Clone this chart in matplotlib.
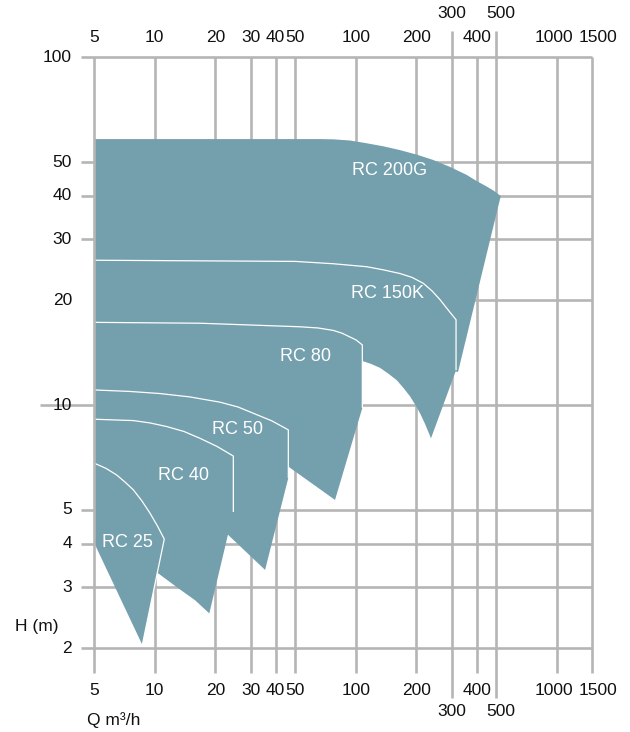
import matplotlib
matplotlib.use("Agg")
import matplotlib.pyplot as plt
import matplotlib.transforms as mtransforms

plt.rcParams['font.family'] = ['Liberation Sans', 'DejaVu Sans']

# ---------------- data ----------------
x_ticks = [5, 10, 20, 30, 40, 50, 100, 200, 300, 400, 500, 1000, 1500]
x_tick_labels = ['5', '10', '20', '30', '40', '50', '100', '200', '300', '400', '500', '1000', '1500']
x_staggered = [300, 500]
y_ticks = [2, 3, 4, 5, 10, 20, 30, 40, 50, 100]
y_tick_labels = ['2', '3', '4', '5', '10', '20', '30', '40', '50', '100']
y_short_stubs = [2, 3, 4, 5, 30, 40, 50, 100]
y_long_stubs = [10]

pump_names = ['RC 200G', 'RC 150K', 'RC 80', 'RC 50', 'RC 40', 'RC 25']

rc200g_q = [5, 66.5, 77.4, 93.7, 113.5, 136.8, 166.2, 201.3, 242.6, 294.8, 357, 397, 449, 488, 527,
            323, 5]
rc200g_h = [58.2, 58.2, 58.1, 57.65, 56.6, 55.5, 54.1, 52.5, 50.7, 48.4, 45.9, 44.2, 42.5, 41.3, 39.9,
            12.45, 22.9]

rc150k_q = [5, 49.9, 77.4, 113.5, 136.8, 166.2, 190.7, 217, 239.9, 262.9, 288, 315.8,
            315.8, 237,
            221.4, 209, 197.4, 186.4, 173, 160, 144.8, 132.2, 119.2, 107.9, 5]
rc150k_h = [26.1, 25.9, 25.5, 25.0, 24.5, 23.9, 23.3, 22.4, 21.3, 20.1, 18.8, 17.6,
            12.6, 8.03,
            8.83, 9.48, 10.05, 10.6, 11.2, 11.8, 12.34, 12.8, 13.14, 13.4, 13.5]

rc80_q = [5, 16.8, 29.8, 52.8, 64.9, 77.4, 85.5, 93.7, 100.4, 107.9, 107.9, 78.9, 46.2, 5]
rc80_h = [17.3, 17.2, 17.0, 16.8, 16.67, 16.4, 16.1, 15.7, 15.4, 14.9, 9.82, 5.34, 6.66, 9.07]

rc50_q = [5, 7.53, 10.6, 14.97, 21.1, 25.96, 30.9, 38.3, 46.2, 46.2, 35.4, 23.15, 5]
rc50_h = [11.06, 10.95, 10.8, 10.56, 10.2, 9.88, 9.48, 9.01, 8.49, 6.18, 3.36, 4.24, 7.43]

rc40_q = [5, 7.82, 9.47, 11.46, 13.98, 16.79, 20.4, 24.6, 24.6, 18.68, 15.86, 13.05, 10.29, 5]
rc40_h = [9.11, 9.03, 8.89, 8.68, 8.40, 8.03, 7.61, 7.14, 4.93, 2.52, 2.75, 2.98, 3.30, 5.34]

rc25_q = [5, 5.72, 6.46, 7.11, 7.82, 8.64, 9.47, 10.32, 11.15, 8.67, 5]
rc25_h = [6.81, 6.58, 6.30, 6.01, 5.71, 5.30, 4.89, 4.49, 4.12, 2.045, 4.01]

# number of leading outline points drawn as a white separating edge
edge_points = [0, 13, 11, 10, 9, 10]

label_q = [147.7, 144.5, 56.5, 25.8, 13.85, 7.34]
label_h = [47.3, 21.0, 13.8, 8.54, 6.27, 4.04]

# ---------------- styles ----------------
FILL = '#74a0ae'
GRID = '#b5b5b5'
GLW = 1.9
FS = 12.5

fig = plt.figure(figsize=(6.3, 7.32), dpi=100)
ax = fig.add_axes([94.3 / 630, 1 - 648.3 / 732, (592 - 94.3) / 630, (648.3 - 57.3) / 732])
ax.set_xscale('log')
ax.set_yscale('log')
ax.set_xlim(5, 1500)
ax.set_ylim(2, 100)
ax.axis('off')

tx = mtransforms.blended_transform_factory(ax.transData, ax.transAxes)
ty = mtransforms.blended_transform_factory(ax.transAxes, ax.transData)

# vertical grid lines
for v in x_ticks:
    if v in x_staggered:
        y0, y1 = -0.0841, 1.045
    else:
        y0, y1 = -0.0423, 1.0
    ax.plot([v, v], [y0, y1], transform=tx, color=GRID, lw=GLW, clip_on=False,
            solid_capstyle='butt', zorder=3 if v == 5 else 1)

# horizontal grid lines
for v in y_ticks:
    if v in y_long_stubs:
        x0 = -0.109
    elif v in y_short_stubs:
        x0 = -0.0273
    else:
        x0 = 0.0
    ax.plot([x0, 1.0], [v, v], transform=ty, color=GRID, lw=GLW, clip_on=False,
            solid_capstyle='butt', zorder=1)

# pump envelopes
pumps_q = [rc200g_q, rc150k_q, rc80_q, rc50_q, rc40_q, rc25_q]
pumps_h = [rc200g_h, rc150k_h, rc80_h, rc50_h, rc40_h, rc25_h]
for q, h in zip(pumps_q, pumps_h):
    ax.fill(q, h, color=FILL, lw=0, zorder=2)
for q, h, n in zip(pumps_q, pumps_h, edge_points):
    if n:
        ax.plot(q[:n], h[:n], color='white', lw=0.9, zorder=2.5,
                solid_capstyle='butt', solid_joinstyle='round')

for name, q, h in zip(pump_names, label_q, label_h):
    ax.text(q, h, name, color='white', fontsize=13, ha='center', va='center', zorder=4)

# x tick labels (top and bottom)
label_dx = {500: 5, 1000: -2.5, 1500: 6}
for v, lab in zip(x_ticks, x_tick_labels):
    t = mtransforms.offset_copy(tx, fig=fig, x=label_dx.get(v, 0), y=0, units='dots')
    if v in x_staggered:
        yt, yb = 1.0733, -0.1073
    else:
        yt, yb = 1.0327, -0.0717
    ax.text(v, yt, lab, transform=t, ha='center', va='center', fontsize=FS, color='#111111')
    ax.text(v, yb, lab, transform=t, ha='center', va='center', fontsize=FS, color='#111111')

# y tick labels
for v, lab in zip(y_ticks, y_tick_labels):
    ax.text(-0.0448, v, lab, transform=ty, ha='right', va='center', fontsize=FS,
            color='#111111', zorder=5)

fig.text(15 / 630, 1 - 626.7 / 732, 'H (m)', ha='left', va='center', fontsize=FS, color='#111111')
fig.text(87 / 630, 1 - 720 / 732, 'Q m³/h', ha='left', va='center', fontsize=FS, color='#111111')

fig.savefig('out.png', dpi=100)
